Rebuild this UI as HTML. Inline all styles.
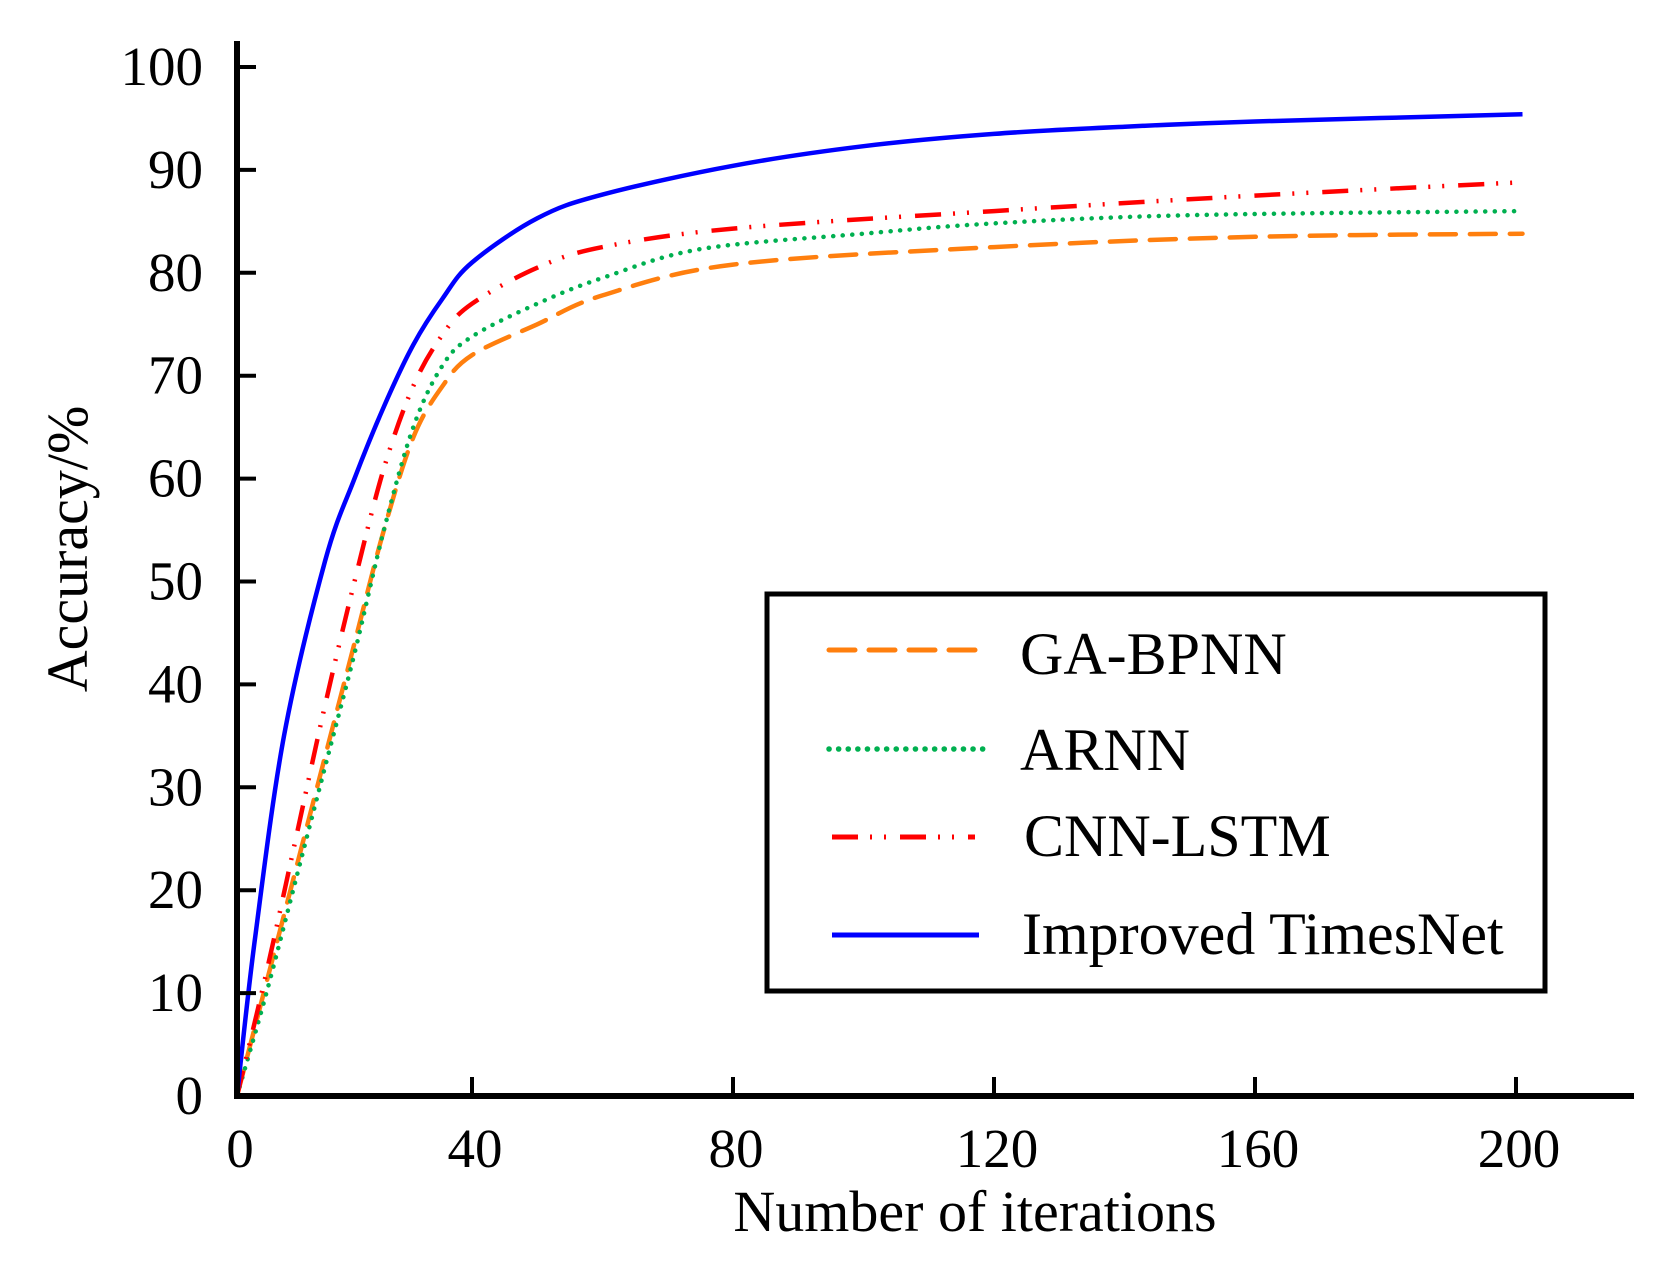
<!DOCTYPE html>
<html><head><meta charset="utf-8"><style>html,body{margin:0;padding:0;background:#fff;}svg{display:block}</style></head>
<body>
<svg id="s" width="1663" height="1263" xmlns="http://www.w3.org/2000/svg" font-family="Liberation Serif, serif">
<rect width="1663" height="1263" fill="#fff"/>
<g id="curves" fill="none" stroke-width="4.5"></g>
<g stroke="#000" stroke-width="6" fill="none">
<line x1="237" y1="41" x2="237" y2="1099"/>
<line x1="234" y1="1096" x2="1634" y2="1096"/>
</g>
<g id="ticks" stroke="#000" stroke-width="4"></g>
<g id="labels" font-size="55" fill="#000"></g>
<text x="975" y="1231" font-size="58" text-anchor="middle">Number of iterations</text>
<text transform="translate(87,549) rotate(-90)" font-size="58" text-anchor="middle">Accuracy/%</text>
<rect x="767" y="594" width="778" height="397" fill="#fff" stroke="#000" stroke-width="5"/>
<g stroke-width="5" fill="none">
<line x1="829" y1="650" x2="979" y2="650" stroke="#ff7f0e" stroke-dasharray="26 14" stroke-linecap="round"/>
<line x1="829" y1="749" x2="985" y2="749" stroke="#00b050" stroke-dasharray="0.1 9.5" stroke-linecap="round" stroke-width="5.5"/>
<line x1="832" y1="837" x2="975" y2="837" stroke="#ff0000" stroke-dasharray="26 12 2 12 2 14"/>
<line x1="832" y1="935" x2="979" y2="935" stroke="#0000ff"/>
</g>
<g font-size="60" fill="#000">
<text x="1020" y="674">GA-BPNN</text>
<text x="1020" y="770">ARNN</text>
<text x="1024" y="856">CNN-LSTM</text>
<text x="1022" y="954">Improved TimesNet</text>
</g>
</svg>
<script>
var NS="http://www.w3.org/2000/svg";
function X(v){return v<=40?237+v*5.875:472+(v-40)*6.525;} function Y(a){return 1096-a*10.29;}
var tk=document.getElementById('ticks'),lb=document.getElementById('labels');
function el(p,t,a,txt){var e=document.createElementNS(NS,t);for(var k in a)e.setAttribute(k,a[k]);if(txt!=null)e.textContent=txt;p.appendChild(e);return e;}
for(var i=0;i<=10;i++){var y=Y(i*10);if(i>0)el(tk,'line',{x1:237,y1:y,x2:256,y2:y});
 el(lb,'text',{x:203,y:y+18,'text-anchor':'end'},String(i*10));}
for(var i=0;i<=5;i++){var x=X(i*40);if(i>0)el(tk,'line',{x1:x,y1:1096,x2:x,y2:1077});
 el(lb,'text',{x:x+3,y:1167,'text-anchor':'middle'},String(i*40));}
function path(pts){var P=pts.map(function(p){return [X(p[0]),Y(p[1])];});var d='M'+P[0][0]+','+P[0][1];
 for(var i=0;i<P.length-1;i++){var p0=P[i>0?i-1:0],p1=P[i],p2=P[i+1],p3=P[i+2<P.length?i+2:i+1];
 var c1=[p1[0]+(p2[0]-p0[0])/6,p1[1]+(p2[1]-p0[1])/6],c2=[p2[0]-(p3[0]-p1[0])/6,p2[1]-(p3[1]-p1[1])/6];
 d+='C'+c1[0].toFixed(1)+','+c1[1].toFixed(1)+' '+c2[0].toFixed(1)+','+c2[1].toFixed(1)+' '+p2[0].toFixed(1)+','+p2[1].toFixed(1);}return d;}
var cg=document.getElementById('curves');
var S=[
 {c:'#ff7f0e',da:'26 14',lc:'round',p:[[0,0],[5,11],[10,22],[15,33],[20,44],[25,55],[30,64],[35,69],[40,72],[50,75],[60,77.8],[80,80.8],[120,82.5],[160,83.5],[201,83.8]]},
 {c:'#00b050',da:'0.1 9.5',lc:'round',p:[[0,0],[5,10],[10,21],[15,32],[20,43],[25,55],[30,65],[35,71],[40,73.8],[50,77],[60,79.5],[75,82.3],[100,83.8],[120,84.8],[150,85.6],[201,86]]},
 {c:'#ff0000',da:'26 12 2 12 2 14',lc:'butt',p:[[0,0],[5,12],[10,25],[15,38],[20,50],[25,61],[30,69],[35,74],[40,77],[50,80.5],[60,82.5],[80,84.3],[120,86],[160,87.5],[201,88.8]]},
 {c:'#0000ff',da:'none',lc:'butt',p:[[0,0],[3,15],[8,35],[15,52],[20,60],[25,67],[30,73],[35,77.5],[40,81],[50,85.3],[60,87.6],[80,90.4],[100,92.3],[120,93.5],[140,94.2],[160,94.7],[201,95.4]]}];
S.forEach(function(s){el(cg,'path',{d:path(s.p),stroke:s.c,'stroke-dasharray':s.da,'stroke-linecap':s.lc});});
</script>
</body></html>
